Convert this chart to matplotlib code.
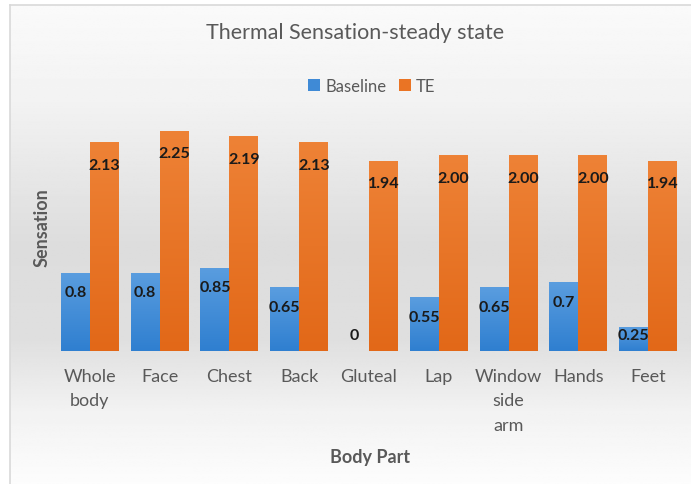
import numpy as np
import matplotlib.pyplot as plt

plt.rcParams['font.family'] = ['Lato', 'DejaVu Sans']

parts = ['Whole\nbody', 'Face', 'Chest', 'Back', 'Gluteal', 'Lap',
         'Window\nside\narm', 'Hands', 'Feet']
baseline = [0.8, 0.8, 0.85, 0.65, 0, 0.55, 0.65, 0.7, 0.25]
te = [2.13, 2.25, 2.19, 2.13, 1.94, 2.00, 2.00, 2.00, 1.94]
baseline_lbl = ['0.8', '0.8', '0.85', '0.65', '0', '0.55', '0.65', '0.7', '0.25']
te_lbl = ['2.13', '2.25', '2.19', '2.13', '1.94', '2.00', '2.00', '2.00', '1.94']

W, H = 691, 485
fig = plt.figure(figsize=(W / 100, H / 100), dpi=100)

# grey gradient background inside the chart frame
bg = fig.add_axes([10 / W, 0, 1 - 10 / W, 1 - 6 / H], zorder=-5)
yy = np.linspace(0, 1, 300)
prof = np.interp(yy, [0, 0.2, 0.5, 0.7, 0.85, 1], [0.98, 0.95, 0.865, 0.875, 0.95, 0.99])
bg.imshow(np.repeat(prof[:, None], 2, axis=1), cmap='gray', vmin=0, vmax=1,
          aspect='auto', extent=[0, 1, 1, 0])
bg.set_xticks([])
bg.set_yticks([])
for s in bg.spines.values():
    s.set_color('#d9d9d9')
    s.set_linewidth(1.2)
bg.spines['right'].set_visible(False)
bg.spines['bottom'].set_visible(False)

ax = fig.add_axes([55 / W, 1 - 352 / H, 628 / W, 245 / H])
ax.set_facecolor('none')

x = np.arange(len(parts))
w = 0.415
b1 = ax.bar(x - w / 2, baseline, w, color='#3f8ad6', label='Baseline')
b2 = ax.bar(x + w / 2, te, w, color='#ea7424', label='TE')


def shade(bars, top, bottom):
    # vertical gradient fill of each bar
    grad = np.linspace(0, 1, 100)[:, None, None]
    c1 = np.array(plt.matplotlib.colors.to_rgb(top))
    c2 = np.array(plt.matplotlib.colors.to_rgb(bottom))
    img = c1 * (1 - grad) + c2 * grad
    for r in bars:
        x0, y0 = r.get_x(), r.get_y()
        if r.get_height() <= 0:
            continue
        im = ax.imshow(img, extent=[x0, x0 + r.get_width(), y0, y0 + r.get_height()],
                       aspect='auto', zorder=r.get_zorder(), origin='upper')
        im.set_clip_path(r)


shade(b1, '#5a9ddf', '#2f7fd0')
shade(b2, '#ee8236', '#e26818')

for i in range(len(parts)):
    ax.text(x[i] - w / 2, max(baseline[i] - 0.2, 0.16), baseline_lbl[i],
            ha='center', va='center', fontsize=11.5, fontweight='bold', color='#1a1a1a')
    ax.text(x[i] + w / 2, te[i] - 0.23, te_lbl[i],
            ha='center', va='center', fontsize=11.5, fontweight='bold', color='#1a1a1a')

ax.set_xlim(-0.5, len(parts) - 0.5)
ax.set_ylim(0, 2.5)
ax.set_yticks([])
ax.set_xticks(x)
ax.set_xticklabels(parts, fontsize=13, color='#595959', linespacing=1.65)
ax.tick_params(axis='x', length=0, pad=12)
for s in ax.spines.values():
    s.set_visible(False)

fig.text(355 / W, 1 - 33 / H, 'Thermal Sensation-steady state', ha='center',
         va='center', fontsize=15.5, color='#595959')
fig.text(42 / W, 1 - 228 / H, 'Sensation', rotation=90, ha='center', va='center',
         fontsize=13, fontweight='bold', color='#595959')
fig.text(370 / W, 1 - 458 / H, 'Body Part', ha='center', va='center',
         fontsize=13, fontweight='bold', color='#595959')

fig.legend(handles=[b1, b2], loc='center', bbox_to_anchor=(372 / W, 1 - 87 / H),
           ncol=2, frameon=False, fontsize=12, handlelength=0.7, handleheight=0.7,
           handletextpad=0.3, columnspacing=0.8, labelcolor='#595959')

fig.savefig('out.png', dpi=100)
